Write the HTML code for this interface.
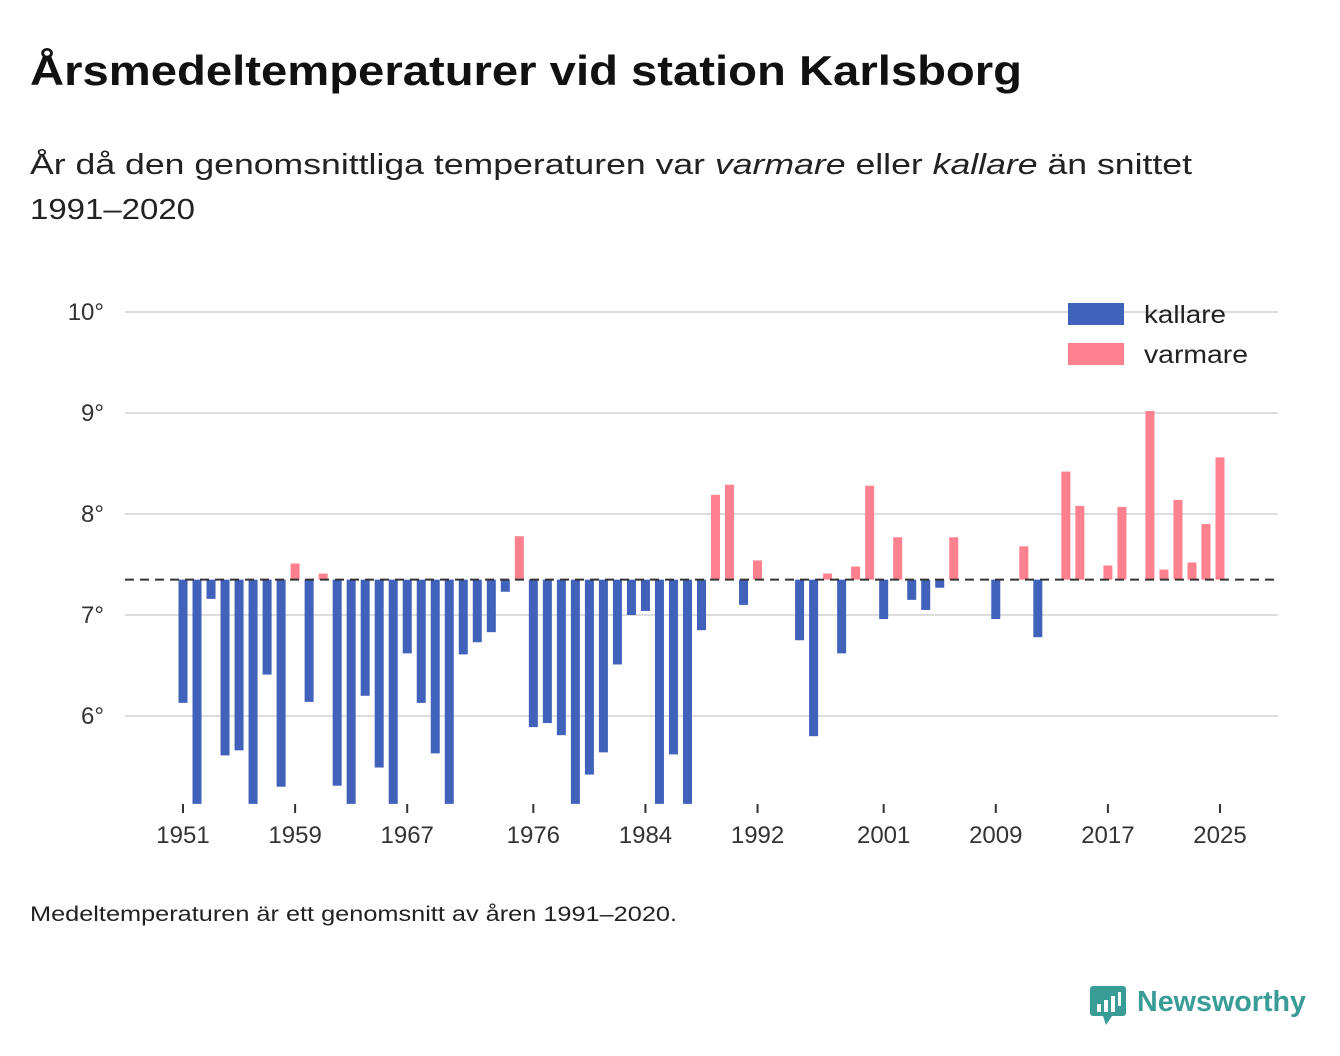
<!DOCTYPE html>
<html><head><meta charset="utf-8"><style>
html,body{margin:0;padding:0;background:#fff;}
svg{display:block;font-family:"Liberation Sans",sans-serif;}
</style></head><body>
<svg id="chart" width="1340" height="1056" viewBox="0 0 1340 1056">
<text x="30" y="85" font-size="42" font-weight="bold" fill="#111" textLength="992" lengthAdjust="spacingAndGlyphs">Årsmedeltemperaturer vid station Karlsborg</text>
<text x="30" y="174" font-size="29" fill="#222" textLength="1162" lengthAdjust="spacingAndGlyphs">År då den genomsnittliga temperaturen var <tspan font-style="italic">varmare</tspan> eller <tspan font-style="italic">kallare</tspan> än snittet</text>
<text x="30" y="219" font-size="29" fill="#222" textLength="165" lengthAdjust="spacingAndGlyphs">1991–2020</text>
<g id="grid"></g>
<g id="bars"></g>
<g id="xaxis"></g>
<g>
<rect x="1068" y="303" width="56" height="22" fill="#4062bb"/>
<text x="1144" y="323" font-size="25" fill="#222" textLength="82" lengthAdjust="spacingAndGlyphs">kallare</text>
<rect x="1068" y="343" width="56" height="22" fill="#ff808f"/>
<text x="1144" y="363" font-size="25" fill="#222" textLength="104" lengthAdjust="spacingAndGlyphs">varmare</text>
</g>
<text x="30" y="921" font-size="21" fill="#222" textLength="647" lengthAdjust="spacingAndGlyphs">Medeltemperaturen är ett genomsnitt av åren 1991–2020.</text>
<g>
<path d="M1093 986 h30 a3 3 0 0 1 3 3 v24 a3 3 0 0 1 -3 3 h-11 l-6 9 l-3 -9 h-10 a3 3 0 0 1 -3 -3 v-24 a3 3 0 0 1 3 -3z" fill="#3a9c97"/>
<rect x="1097" y="1004" width="4" height="8" fill="#fff"/><rect x="1104" y="1000" width="4" height="12" fill="#fff"/><rect x="1111" y="996" width="4" height="16" fill="#fff"/><rect x="1118" y="992" width="3" height="14" fill="#fff"/>
<text x="1137" y="1011" font-size="29" font-weight="bold" fill="#3a9c97" textLength="169" lengthAdjust="spacingAndGlyphs">Newsworthy</text>
</g>
</svg>
<script>
const years=[1951,1952,1953,1954,1955,1956,1957,1958,1959,1960,1961,1962,1963,1964,1965,1966,1967,1968,1969,1970,1971,1972,1973,1974,1975,1976,1977,1978,1979,1980,1981,1982,1983,1984,1985,1986,1987,1988,1989,1990,1991,1992,1995,1996,1997,1998,1999,2000,2001,2002,2003,2004,2005,2006,2009,2011,2012,2014,2015,2017,2018,2020,2021,2022,2023,2024,2025];
const temps=[6.13,4.9,7.16,5.61,5.66,4.9,6.41,5.30,7.51,6.14,7.41,5.31,4.9,6.2,5.49,4.9,6.62,6.13,5.63,4.9,6.61,6.73,6.83,7.23,7.78,5.89,5.93,5.81,4.9,5.42,5.64,6.51,7.0,7.04,4.9,5.62,4.9,6.85,8.19,8.29,7.1,7.54,6.75,5.80,7.41,6.62,7.48,8.28,6.96,7.77,7.15,7.05,7.27,7.77,6.96,7.68,6.78,8.42,8.08,7.49,8.07,9.02,7.45,8.14,7.52,7.9,8.56];
const yTicks=[6,7,8,9,10];
const xTicks=[1951,1959,1967,1976,1984,1992,2001,2009,2017,2025];
const baseline=7.35;
const NS="http://www.w3.org/2000/svg";
const yMinClip=5.13;
function y(v){return 615-(v-7)*101;}
function x(yr){return 183+(yr-1951)*(1037/74);}
function mk(t,a,p){const e=document.createElementNS(NS,t);for(const k in a)e.setAttribute(k,a[k]);p.appendChild(e);return e;}
const grid=document.getElementById('grid'),bars=document.getElementById('bars'),xa=document.getElementById('xaxis');
yTicks.forEach(t=>{
 const l=mk('line',{x1:125,x2:1278,y1:y(t),y2:y(t),stroke:'#ddd','stroke-width':2},grid);
 
 
 const tx=mk('text',{x:104,y:y(t)+8,'font-size':24,fill:'#333','text-anchor':'end'},grid);
 tx.textContent=t+'°';
 
 
});
years.forEach((yr,i)=>{
 const v=Math.max(temps[i],yMinClip);
 const y0=y(baseline),y1=y(v);
 const r=mk('rect',{x:x(yr)-4.5,y:Math.min(y0,y1),width:9,height:Math.abs(y1-y0),fill:temps[i]>=baseline?'#ff808f':'#4062bb'},bars);
 
 
});
const bl=mk('line',{x1:125,x2:1278,y1:y(baseline),y2:y(baseline),stroke:'#333','stroke-width':2,'stroke-dasharray':'9,6'},bars);


xTicks.forEach(t=>{
 mk('line',{x1:x(t),x2:x(t),y1:804,y2:813,stroke:'#333','stroke-width':2},xa);
 const tx=mk('text',{x:x(t),y:843,'font-size':24,fill:'#333','text-anchor':'middle'},xa);
 tx.textContent=t;
 
 
});
</script>
</body></html>
